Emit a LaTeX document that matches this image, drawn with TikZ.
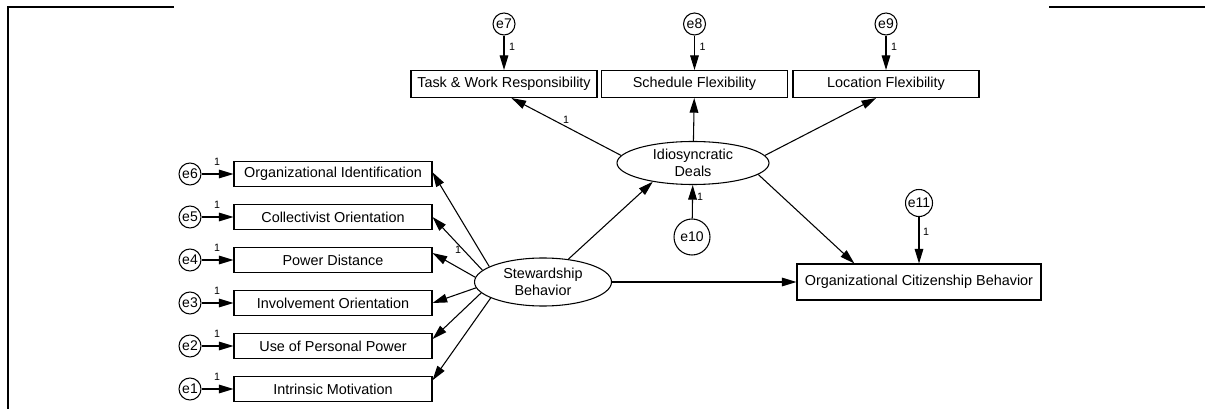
\documentclass[tikz,border=0pt]{standalone}
\usepackage{fontspec}
\setmainfont{Liberation Sans}
\usetikzlibrary{arrows.meta,shapes.geometric}
\begin{document}
\begin{tikzpicture}[x=0.75pt,y=-0.75pt,
  conn/.style={line width=0.8pt,-{Triangle[length=11pt,width=6.5pt]}},
  obs/.style={draw,line width=0.8pt,inner sep=0pt,font=\fontsize{10.8}{13}\selectfont},
  leftbox/.style={obs,minimum width=148.5pt,minimum height=18.75pt},
  topbox/.style={obs,minimum width=139.5pt,minimum height=20.25pt},
  latent/.style={draw,ellipse,line width=0.8pt,inner sep=0pt,align=center,font=\fontsize{10.8}{13}\selectfont},
  err/.style={draw,circle,line width=0.8pt,inner sep=0pt,minimum size=16.5pt,font=\fontsize{10.5}{12}\selectfont},
  one/.style={inner sep=0pt,font=\fontsize{8}{9}\selectfont},
  frame/.style={line width=1.6pt}]
\useasboundingbox (0,0) rectangle (1205,409);

% page frame
\draw[frame] (173.5,6.7) -- (7.7,6.7) -- (7.7,409);
\draw[frame] (1049,6.7) -- (1205,6.7);

% indicators of stewardship behavior
\node[leftbox] (oi)  at (333,174) {Organizational Identification};
\node[leftbox] (co)  at (333,217) {Collectivist Orientation};
\node[leftbox] (pd)  at (333,260) {Power Distance};
\node[leftbox] (io)  at (333,303) {Involvement Orientation};
\node[leftbox] (upp) at (333,346) {Use of Personal Power};
\node[leftbox] (im)  at (333,389) {Intrinsic Motivation};

\node[err] (e6) at (190,174) {e6};
\node[err] (e5) at (190,217) {e5};
\node[err] (e4) at (190,260) {e4};
\node[err] (e3) at (190,303) {e3};
\node[err] (e2) at (190,346) {e2};
\node[err] (e1) at (190,389) {e1};

\draw[conn] (e6) -- (oi);
\draw[conn] (e5) -- (co);
\draw[conn] (e4) -- (pd);
\draw[conn] (e3) -- (io);
\draw[conn] (e2) -- (upp);
\draw[conn] (e1) -- (im);

\node[one] (l6) at (217,162) {1};
\node[one] (l5) at (217,205) {1};
\node[one] (l4) at (217,248) {1};
\node[one] (l3) at (217,291) {1};
\node[one] (l2) at (217,334) {1};
\node[one] (l1) at (217,377) {1};

% indicators of idiosyncratic deals
\node[topbox] (tw) at (504,84) {Task \& Work Responsibility};
\node[topbox] (sf) at (694.5,84) {Schedule Flexibility};
\node[topbox] (lf) at (886,84) {Location Flexibility};

\node[err] (e7) at (504,24) {e7};
\node[err] (e8) at (694.5,24) {e8};
\node[err] (e9) at (886,24) {e9};

\draw[conn] (e7) -- (tw);
\draw[conn] (e8) -- (sf);
\draw[conn] (e9) -- (lf);

\node[one] (l7) at (512,47) {1};
\node[one] (l8) at (702.5,47) {1};
\node[one] (l9) at (894,47) {1};

% latent variables
\node[latent,minimum width=102.75pt,minimum height=36pt] (sb) at (543,282) {Stewardship\\Behavior};
\node[latent,minimum width=114pt,minimum height=32.25pt] (id) at (693,163) {Idiosyncratic\\Deals};

\node[obs,minimum width=183pt,minimum height=27pt] (ocb) at (919,282) {Organizational Citizenship Behavior};

\node[err,minimum size=27pt] (e10) at (692,237) {e10};
\node[err,minimum size=20.25pt] (e11) at (919,203) {e11};

% loadings of stewardship behavior
\draw[conn] (sb.164) -- (oi.1);
\draw[conn] (sb.169) -- (co.0);
\draw[conn] (sb.176) -- (pd.4);
\draw[conn] (sb.185) -- (io.0);
\draw[conn] (sb.190) -- (upp.4);
\draw[conn] (sb.197) -- (im.5);
\node[one] (lpd) at (458,250) {1};

% loadings of idiosyncratic deals
\draw[conn] (id.174) -- (tw.-62);
\draw[conn] (id) -- (sf);
\draw[conn] (id.6) -- (lf.-125);
\node[one] (ltw) at (566,120) {1};

% structural paths
\draw[conn] (sb.42) -- (id.205);
\draw[conn] (id.-10) -- (ocb.164);
\draw[conn] (sb) -- (ocb);

% disturbances
\draw[conn] (e10) -- (id);
\node[one] (l10) at (700,197) {1};
\draw[conn] (e11) -- (ocb);
\node[one] (l11) at (926,232) {1};
\end{tikzpicture}
\end{document}
